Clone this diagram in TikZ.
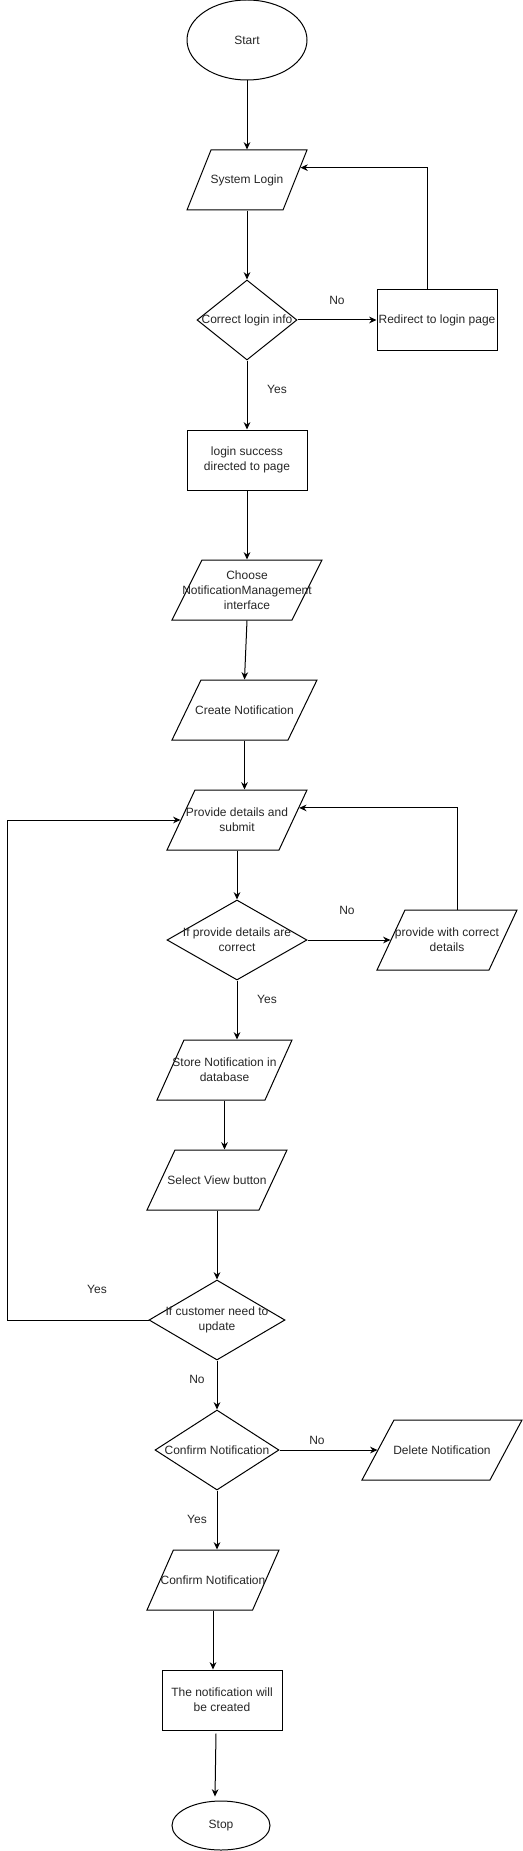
\documentclass[tikz,border=0pt]{standalone}
\usepackage{fontspec}
\setmainfont{Liberation Sans}
\usetikzlibrary{shapes.geometric, arrows.meta, positioning}

\begin{document}
\begin{tikzpicture}[
  x=0.75pt, y=-0.75pt,
  base/.style={draw, line width=0.75pt, font=\fontsize{9}{11.25}\selectfont, text=black!85, align=center},
  term/.style={base, ellipse, inner sep=0pt},
  proc/.style={base, rectangle, minimum width=90pt, minimum height=45pt, inner sep=0pt},
  io/.style={base, trapezium, trapezium left angle=71.57, trapezium right angle=108.43, trapezium stretches=true, minimum height=45pt, inner sep=1pt, label={[lbl, align=center]center:#1}},
  dec/.style={base, diamond, minimum height=60pt, inner xsep=-40pt, inner ysep=-15pt},
  arr/.style={-{Stealth[length=5.5pt, width=5pt]}, line width=0.75pt},
  lbl/.style={font=\fontsize{9}{11.25}\selectfont, text=black!85}
]
  \useasboundingbox (0,0) rectangle (523,1851);

  % Login part
  \node[term, minimum width=90pt, minimum height=60pt] (start) at (247,40) {Start};
  \node[io={System Login}, minimum width=90pt] (syslogin) at (247,180) {};
  \node[dec, minimum width=75pt] (check) at (247,320) {Correct login info};
  \node[proc] (redirect) at (437,320) {Redirect to login page};
  \node[proc] (success) at (247,460) {login success\\directed to page};

  \draw[arr] (start.south) -- (start.south |- syslogin.north);
  \draw[arr] (syslogin.center |- syslogin.south) -- (check.north);
  \draw[arr] (check.east) -- (redirect.west);
  \draw[arr] ([xshift=-7.5pt]redirect.north) |- (syslogin.13.5);
  \draw[arr] (check.south) -- (success.north);
  \node[lbl] at (337,300) {No};
  \node[lbl] at (277,389) {Yes};

  % Notification management
  \node[io={Choose\\NotificationManagement\\interface}, minimum width=112.5pt] (choose) at (247,590) {};
  \node[io={Create Notification}, minimum width=108.75pt] (create) at (244.5,710) {};
  \node[io={Provide details and\\submit}, minimum width=105pt] (provide) at (237,820) {};
  \node[dec, minimum width=105pt] (valid) at (237,940) {If provide details are\\correct};
  \node[io={provide with correct\\details}, minimum width=105pt] (fix) at (447,940) {};

  \draw[arr] (success.south) -- (success.south |- choose.north);
  \draw[arr] (choose.center |- choose.south) -- (create.center |- create.north);
  \draw[arr] (create.center |- create.south) -- (create.center |- provide.north);
  \draw[arr] (provide.center |- provide.south) -- (valid.north);
  \draw[arr] (valid.east) -- (fix.180);
  \draw[arr] ([xshift=7.5pt]fix.north) |- (provide.11.5);
  \node[lbl] at (347,910) {No};
  \node[lbl] at (267,999) {Yes};

  % Store and view
  \node[io={Store Notification in\\database}, minimum width=101.25pt] (store) at (224.5,1070) {};
  \node[io={Select View button}, minimum width=105pt] (view) at (217,1180) {};
  \node[dec, minimum width=102pt] (update) at (217,1320) {If customer need to\\update};
  \coordinate (loopleft) at (7,820);

  \draw[arr] (valid.south) -- (valid.south |- store.north);
  \draw[arr] (store.center |- store.south) -- (store.center |- view.north);
  \draw[arr] (view.center |- view.south) -- (update.north);
  \draw[arr] (update.west) -| (loopleft) -- (provide.180);
  \node[lbl] at (97,1289) {Yes};
  \node[lbl] at (197,1379) {No};

  % Confirm
  \node[dec, minimum width=93pt] (confirm) at (217,1450) {Confirm Notification};
  \node[io={Delete Notification}, minimum width=120pt] (delete) at (442,1450) {};
  \node[io={Confirm Notification}, minimum width=99pt] (confirmio) at (213,1580) {};
  \node[proc] (created) at (222,1700) {The notification will\\be created};
  \node[term, minimum width=73.5pt, minimum height=36.75pt] (stop) at (221,1825.5) {Stop};

  \draw[arr] (update.south) -- (confirm.north);
  \draw[arr] (confirm.east) -- (delete.180);
  \draw[arr] (confirm.south) -- (confirm.south |- confirmio.north);
  \draw[arr] (confirmio.center |- confirmio.south) -- (confirmio.center |- created.north);
  \draw[arr] ([xshift=-4.5pt, yshift=-2.25pt]created.south) -- ([xshift=-4.5pt, yshift=3pt]stop.north);
  \node[lbl] at (317,1440) {No};
  \node[lbl] at (197,1519) {Yes};
\end{tikzpicture}
\end{document}
